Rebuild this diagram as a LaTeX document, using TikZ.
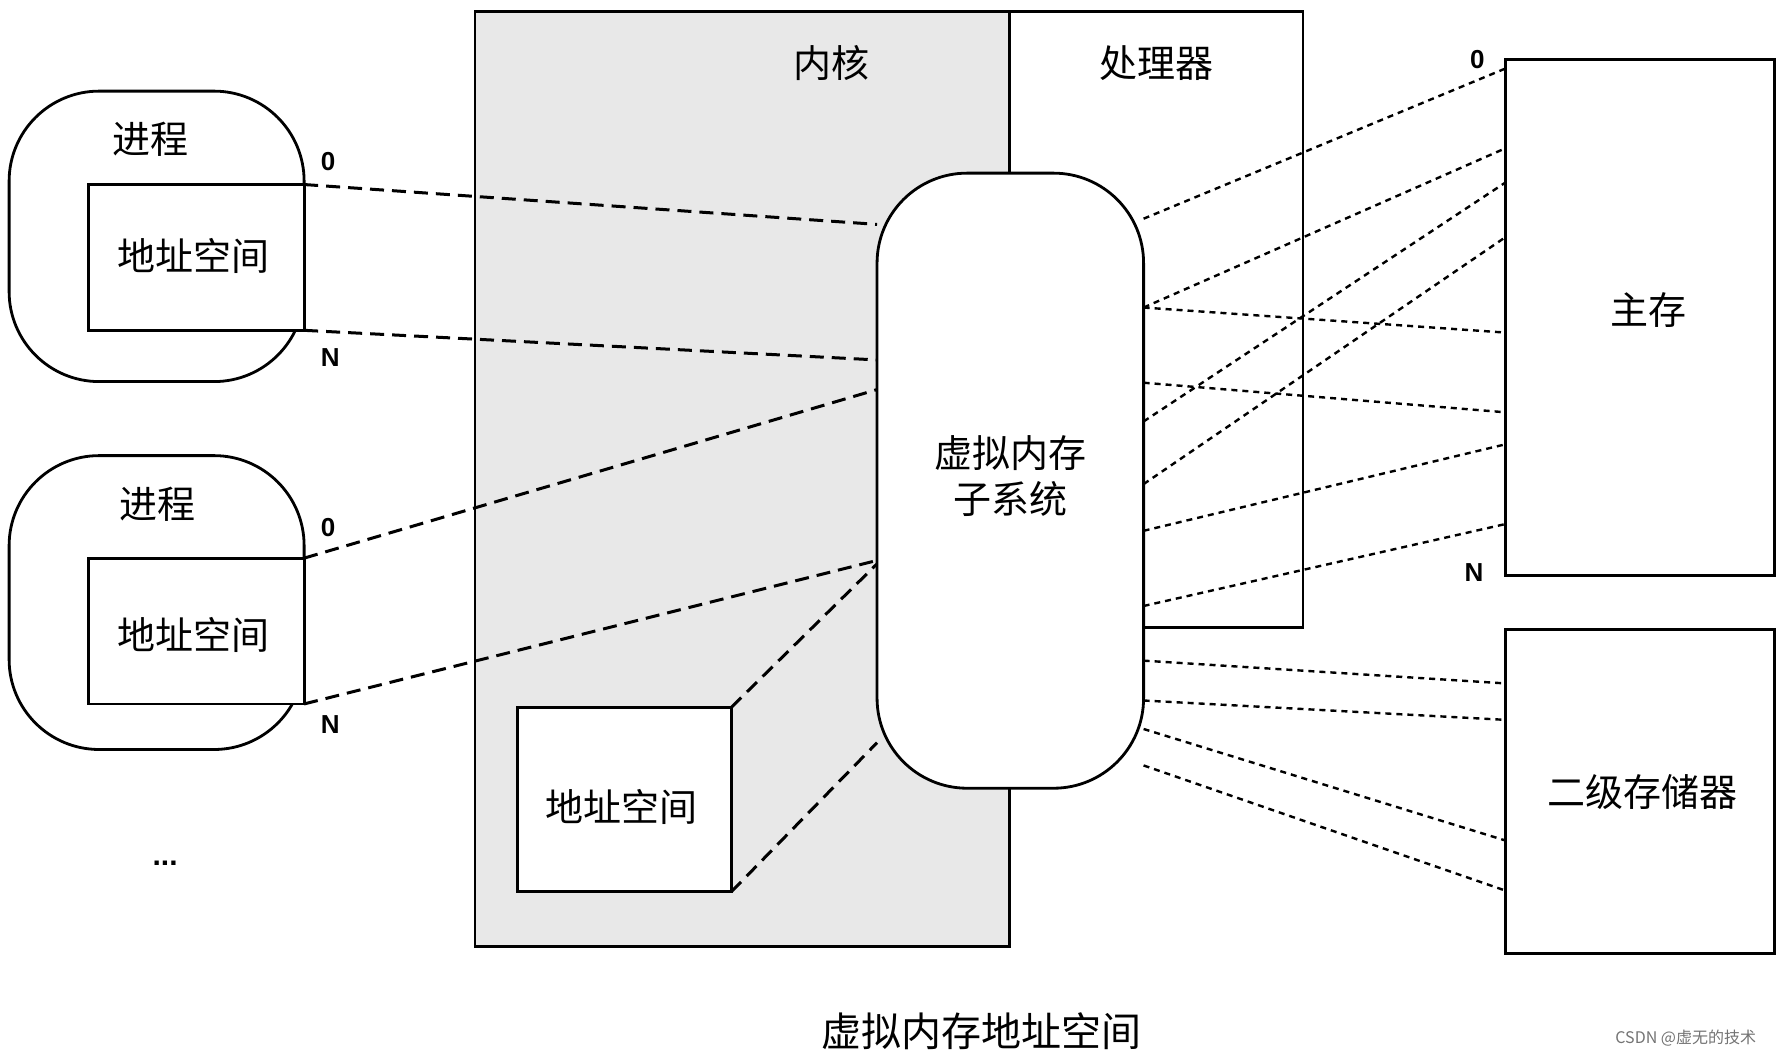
\documentclass[tikz,border=0pt]{standalone}
\usepackage{fontspec}
\newfontfamily\cjk{Noto Sans CJK SC}
\setmainfont{Liberation Sans}
\begin{document}
\begin{tikzpicture}[x=0.02cm,y=-0.02cm,
  box/.style={draw,line width=1.4pt},
  lbl/.style={font=\cjk\fontsize{19}{23}\selectfont},
  num/.style={font=\bfseries\fontsize{13}{15}\selectfont},
  dl/.style={line width=1.5pt,dash pattern=on 7pt off 4pt},
  dt/.style={line width=1.2pt,dash pattern=on 3pt off 2.5pt}]
\useasboundingbox (0,0) rectangle (1568,927);
% kernel & processor
\draw[box,fill=black!9] (417,10) rectangle (886,831);
\draw[box] (886,10) rectangle (1144,551);
\node[lbl] (kt) at (730,55) {内核};
\node[lbl] (pt) at (1015,55) {处理器};
% processes
\draw[box,rounded corners=45pt] (8,80) rectangle (267,335);
\node[lbl] (p1) at (132,122) {进程};
\draw[box,fill=white] (78,162) rectangle (267,290);
\coordinate (a1t) at (267,162); \coordinate (a1b) at (267,290);
\node[lbl] (as1) at (170,225) {地址空间};
\node[num] at (288,142) {0}; \node[num] at (290,314) {N};
\draw[box,rounded corners=45pt] (8,400) rectangle (267,658);
\node[lbl] (p2) at (138,443) {进程};
\draw[box,fill=white] (78,490) rectangle (267,618);
\coordinate (a2t) at (267,490); \coordinate (a2b) at (267,618);
\node[lbl] (as2) at (170,557) {地址空间};
\node[num] at (288,463) {0}; \node[num] at (290,636) {N};
\node[font=\bfseries\fontsize{15}{17}\selectfont] at (145,758) {...};
% kernel address space
\draw[box,fill=white] (454,621) rectangle (642,783);
\coordinate (kt1) at (642,621); \coordinate (kb1) at (642,783);
\node[lbl] (as3) at (546,708) {地址空间};
% VM subsystem
\draw[box,fill=white,rounded corners=45pt] (770,152) rectangle (1004,692);
\node[lbl,align=center] (vm) at (887,418) {虚拟内存\\子系统};
% memory
\draw[box] (1322,52) rectangle (1558,505);
\node[lbl] (mm) at (1447,272) {主存};
\node[num] at (1297,52) {0}; \node[num] at (1294,503) {N};
\draw[box] (1322,553) rectangle (1558,837);
\node[lbl] (sm) at (1442,695) {二级存储器};
% left dashed
\draw[dl] (a1t) -- (770,197);
\draw[dl] (a1b) -- (770,316);
\draw[dl] (a2t) -- (770,342);
\draw[dl] (a2b) -- (770,492);
\draw[dl] (kt1) -- (770,495);
\draw[dl] (kb1) -- (770,652);
% right dotted
\foreach \a/\b in {192/60,270/130,270/292,336/362,370/160,425/208,466/390,532/460,580/600,615/632,640/738,672/782}
  \draw[dt] (1004,\a) -- (1322,\b);
\node[font=\cjk\fontsize{20}{24}\selectfont] (cap) at (862,905) {虚拟内存地址空间};
\node[font=\cjk\fontsize{8}{10}\selectfont,text=black!55] (wm) at (1480,911) {CSDN @虚无的技术};
\end{tikzpicture}
\end{document}
